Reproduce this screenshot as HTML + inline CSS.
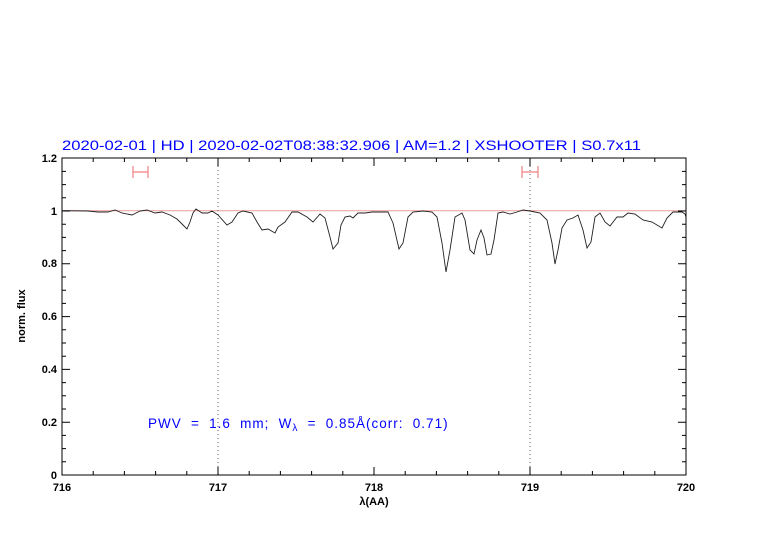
<!DOCTYPE html>
<html><head><meta charset="utf-8"><style>
body{margin:0;background:#fff;}
svg{display:block;font-family:"Liberation Sans",sans-serif;}
</style></head><body>
<svg width="782" height="542" viewBox="0 0 782 542" xmlns="http://www.w3.org/2000/svg">
<rect width="782" height="542" fill="#fff"/>
<text x="62" y="150" font-size="13.5" fill="#0000ff" textLength="579" lengthAdjust="spacingAndGlyphs">2020-02-01 | HD | 2020-02-02T08:38:32.906 | AM=1.2 | XSHOOTER | S0.7x11</text>
<line x1="62" y1="210.8" x2="686" y2="210.8" stroke="#e99" stroke-width="1"/>
<line x1="218" y1="158" x2="218" y2="475" stroke="#555" stroke-width="1" stroke-dasharray="1,3"/>
<line x1="530" y1="158" x2="530" y2="475" stroke="#555" stroke-width="1" stroke-dasharray="1,3"/>
<g stroke="#f08080" stroke-width="1.2" fill="none">
<path d="M133 172H148M133 166V178M148 166V178"/>
<path d="M522 172H538M522 166V178M538 166V178"/>
</g>
<polyline fill="none" stroke="#222" stroke-width="0.9" points="62,211 65,210.7 88,211 98,212 108,212 115,210 122,213 132,215 140,211 147,210 155,213 162,212 170,215 177,219 183,225 187,229 190,222 193,213 196,209 202,213 208,213 212,211 218,215 227,225 232,222 238,213 243,211 252,213 257,222 262,230 268,229 275,233 278,227 285,222 292,212 298,212 307,217 313,222 320,214 325,218 330,237 333,249 338,243 341,225 345,217 350,216 353,218 358,213 365,213 372,212 377,212 388,212 393,223 399,249 403,243 408,217 413,212 423,211 432,212 437,217 442,243 446,272 450,250 455,217 462,213 465,220 470,250 474,254 477,240 481,230 484,238 487,255 491,254 494,240 498,213 503,212 510,214 517,212 523,210 530,211 540,213 547,220 552,243 555,264 558,250 562,228 567,220 573,218 578,215 583,230 587,248 591,242 595,217 600,213 605,222 610,226 617,217 623,217 628,213 635,214 643,220 652,222 662,228 667,218 673,212 682,212 685,214 686,217"/>
<rect x="62" y="158" width="624" height="317" fill="none" stroke="#000" stroke-width="1"/>
<g stroke="#000" stroke-width="1">
<path d="M93.2 475v-4M124.4 475v-4M155.6 475v-4M186.8 475v-4M218 475v-8M249.2 475v-4M280.4 475v-4M311.6 475v-4M342.8 475v-4M374 475v-8M405.2 475v-4M436.4 475v-4M467.6 475v-4M498.8 475v-4M530 475v-8M561.2 475v-4M592.4 475v-4M623.6 475v-4M654.8 475v-4"/>
<path d="M93.2 158v4M124.4 158v4M155.6 158v4M186.8 158v4M218 158v8M249.2 158v4M280.4 158v4M311.6 158v4M342.8 158v4M374 158v8M405.2 158v4M436.4 158v4M467.6 158v4M498.8 158v4M530 158v8M561.2 158v4M592.4 158v4M623.6 158v4M654.8 158v4"/>
<path d="M62 461.8h4M62 448.6h4M62 435.4h4M62 422.2h8M62 409h4M62 395.8h4M62 382.6h4M62 369.4h8M62 356.2h4M62 343h4M62 329.8h4M62 316.6h8M62 303.4h4M62 290.2h4M62 277h4M62 263.8h8M62 250.6h4M62 237.4h4M62 224.2h4M62 211h8M62 197.8h4M62 184.6h4M62 171.4h4"/>
<path d="M686 461.8h-4M686 448.6h-4M686 435.4h-4M686 422.2h-8M686 409h-4M686 395.8h-4M686 382.6h-4M686 369.4h-8M686 356.2h-4M686 343h-4M686 329.8h-4M686 316.6h-8M686 303.4h-4M686 290.2h-4M686 277h-4M686 263.8h-8M686 250.6h-4M686 237.4h-4M686 224.2h-4M686 211h-8M686 197.8h-4M686 184.6h-4M686 171.4h-4"/>
</g>
<g font-size="11" fill="#000" text-anchor="end" font-weight="bold">
<text x="57" y="479">0</text><text x="57" y="426">0.2</text><text x="57" y="373">0.4</text><text x="57" y="320">0.6</text><text x="57" y="267">0.8</text><text x="57" y="215">1</text><text x="57" y="162">1.2</text>
</g>
<g font-size="11" fill="#000" text-anchor="middle" font-weight="bold">
<text x="62" y="491">716</text><text x="218" y="491">717</text><text x="374" y="491">718</text><text x="530" y="491">719</text><text x="686" y="491">720</text>
<text x="374" y="505">λ(AA)</text>
</g>
<text transform="translate(25,316) rotate(-90)" font-size="11" text-anchor="middle" fill="#000" font-weight="bold">norm. flux</text>
<text x="148" y="428" font-size="13.5" fill="#0000ff" letter-spacing="1" word-spacing="4.5">PWV = 1.6 mm; W<tspan font-size="10" dy="3">λ</tspan><tspan dy="-3"> = 0.85Å(corr: 0.71)</tspan></text>
</svg>
</body></html>
